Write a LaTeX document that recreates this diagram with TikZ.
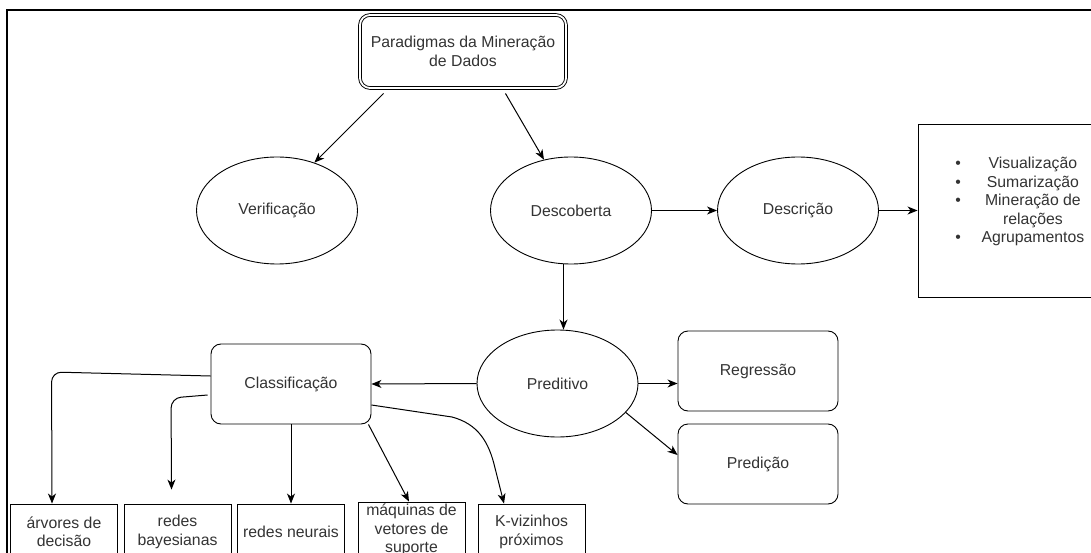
\documentclass[tikz,border=0pt]{standalone}
\usepackage{fontspec}
\setmainfont{Liberation Sans}
\usetikzlibrary{arrows.meta,shapes.geometric}
\definecolor{ink}{HTML}{000000}
\definecolor{txt}{HTML}{333333}
\begin{document}
\begin{tikzpicture}[x=1pt,y=-1pt,
  every node/.style={font=\fontsize{15.8}{18.5}\selectfont, text=txt, inner sep=0pt},
  oval/.style={ellipse, draw=ink, line width=0.9pt, minimum width=161pt, minimum height=107pt},
  rbox/.style={rectangle, rounded corners=10pt, draw=ink, line width=0.9pt,
               minimum width=160pt, minimum height=80pt, align=center},
  leaf/.style={rectangle, draw=ink, line width=0.9pt, minimum width=107pt,
               minimum height=56pt, align=center},
  listbox/.style={rectangle, draw=ink, line width=0.9pt, minimum width=228pt, minimum height=173pt},
  conn/.style={draw=ink, line width=1pt, -{Stealth[length=10pt,width=8pt,inset=3pt]}},
  frame/.style={draw=ink, line width=1.6pt}
]
\useasboundingbox (0,0) rectangle (1091,553);
\clip (0,0) rectangle (1091,553);

% outer frame
\draw[frame] (7,600) -- (7,10) -- (1200,10);

% top level
\node[rbox, double=white, double distance=1.8pt, minimum width=206pt, minimum height=73pt]
  (title) at (463,51.5) {Paradigmas da Mineração\\de Dados};

\node[oval] (ver)   at (277,210.5) {Verificação};
\node[oval] (disc)  at (571,210.5) {Descoberta};
\node[oval] (descr) at (798,210.5) {Descrição};

% description tasks
\node[listbox] (lst) at (1032,210.5) {};
\node[anchor=west] (items) at (955.2,202) {%
  \begin{tabular}{@{}c@{\hspace{20.6pt}}c@{}}
  • & Visualização\\
  • & Sumarização\\
  • & Mineração de\\
    & relações\\
  • & Agrupamentos
  \end{tabular}};

% predictive branch
\node[oval] (pred) at (557.5,383.5) {Preditivo};
\node[rbox] (reg) at (758,371) {Regressão};
\node[rbox] (pdc) at (758,464) {Predição};
\node[rbox] (cls) at (291,384) {Classificação};

% classification methods
\node[leaf] (arv) at (64,532)    {árvores de\\decisão};
\node[leaf] (bay) at (177.5,532) {redes\\bayesianas};
\node[leaf] (neu) at (291,532)   {redes neurais};
\node[leaf] (maq) at (411.5,530) {máquinas de\\vetores de\\suporte};
\node[leaf, yshift=-2pt] (knn) at (531.5,530) {K-vizinhos\\próximos};

% connectors
\draw[conn] ([xshift=24pt,yshift=-5pt]title.south west) -- (ver.52);
\draw[conn] ([xshift=-61pt,yshift=-5pt]title.south east) -- (disc.118);
\draw[conn] (disc.east) -- (descr.west);
\draw[conn] (descr.east) -- (lst.west);
\draw[conn] ([xshift=-7.5pt]disc.south) -- ([xshift=6pt]pred.north);
\draw[conn] (pred.west) -- (cls.east);
\draw[conn] (pred.east) -- (pred.east -| reg.west);
\draw[conn] (pred.-23) -- ([yshift=9pt]pdc.west);

\coordinate (bayend) at ([xshift=-6pt,yshift=14pt]bay.north);
\draw[conn, rounded corners=10pt] ([yshift=8pt]cls.west) -- ++(-159,-4) -- ([xshift=-12pt]arv.north);
\draw[conn, rounded corners=10pt] ([xshift=-3pt,yshift=-11pt]cls.west) -- ++(-36.5,3) -- (bayend);
\draw[conn] (cls.south) -- (neu.north);
\draw[conn] ([xshift=-3pt]cls.south east) -- ([xshift=-2.5pt]maq.north);
\draw[conn] ([yshift=-21pt]cls.east) -- (452,417)
  .. controls (478,424) and (489,442) .. (495,468) -- ([xshift=-27.5pt]knn.north);
\end{tikzpicture}
\end{document}
